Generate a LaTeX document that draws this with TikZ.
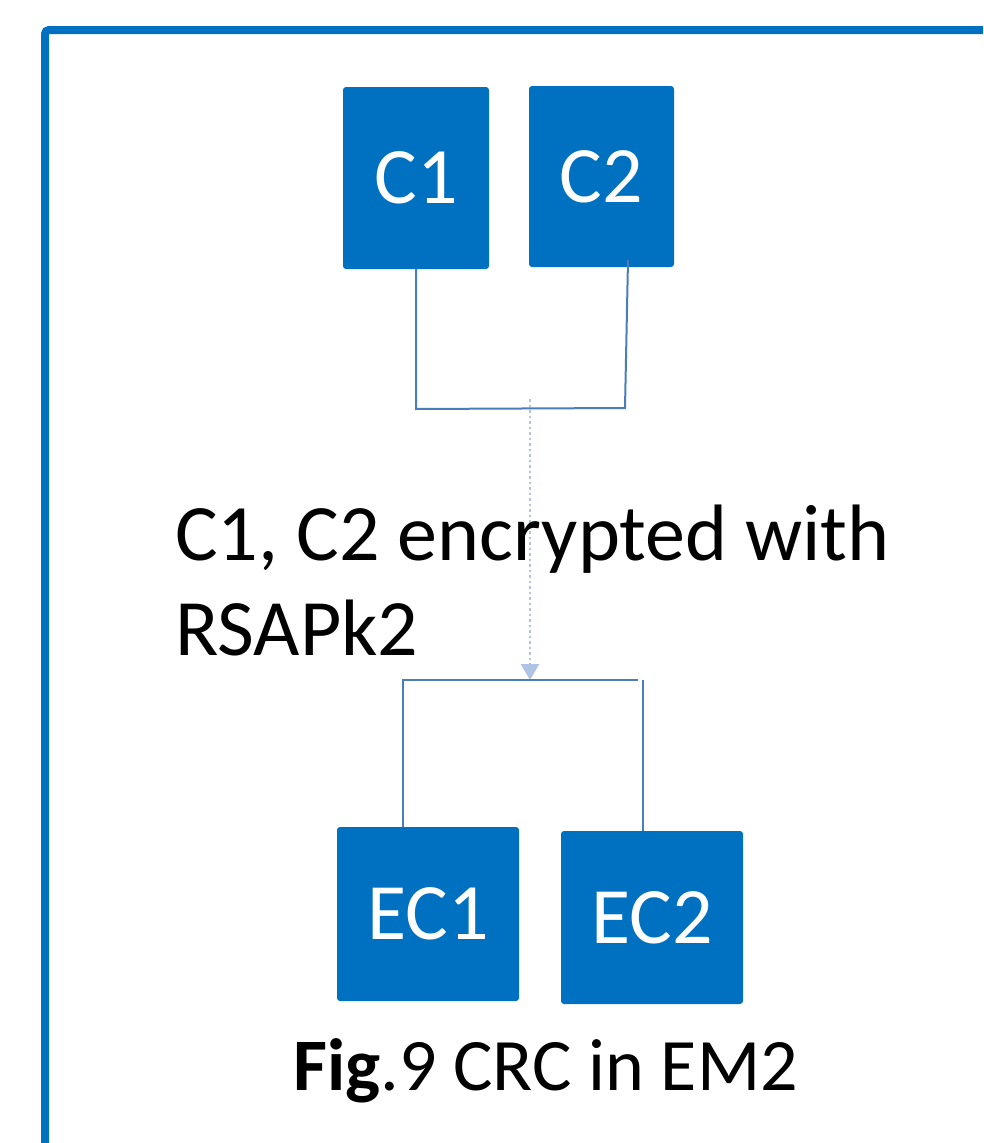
\documentclass[tikz,border=0pt]{standalone}
\usepackage{fontspec}
\setmainfont{Carlito}
\usetikzlibrary{arrows.meta}
\definecolor{boxblue}{HTML}{0070C0}
\definecolor{linkblue}{HTML}{4A7EBB}
\definecolor{dotblue}{HTML}{AFC4E5}
\tikzset{
  blk/.style={fill=boxblue, draw=none, rounded corners=3pt, text=white, inner sep=0pt,
    font=\fontsize{80}{80}\selectfont},
  conn/.style={draw=linkblue, line width=2pt},
  dotarrow/.style={draw=dotblue, line width=2.5pt, dash pattern=on 2.5pt off 3pt,
    -{Triangle[width=18pt,length=16pt,fill=dotblue]}},
}
\begin{document}
\begin{tikzpicture}[x=1pt,y=-1pt]
\useasboundingbox (0,0) rectangle (983,1143);
\clip (0,0) rectangle (983,1143);
\fill[white] (0,0) rectangle (983,1143);
% frame
\draw[boxblue, line width=8pt, rounded corners=4pt] (45,1200) -- (45,30) -- (1050,30);
% boxes
\node[blk, minimum width=146pt, minimum height=182pt] (C1) at (416,178) {C1};
\node[blk, minimum width=145pt, minimum height=181pt] (C2) at (601.5,176.5) {C2};
\node[blk, minimum width=182pt, minimum height=174pt] (EC1) at (428,914) {EC1};
\node[blk, minimum width=182pt, minimum height=173pt] (EC2) at (652,917.5) {EC2};
% top bracket
\coordinate (t1) at (416,409);
\coordinate (t2) at (625,408);
\coordinate (c2in) at (628,260);
\draw[conn] (C1.south) -- (t1) -- (t2) -- (c2in);
% dotted arrow
\coordinate (ds) at (530,399);
\coordinate (de) at (530,680);
\draw[dotarrow] (ds) -- (de);
% bottom bracket
\coordinate (b1) at (403,827);
\coordinate (b2) at (403,680);
\coordinate (b3) at (638,680);
\coordinate (b4) at (643,680);
\coordinate (b5) at (643,831);
\draw[conn] (b1) -- (b2) -- (b3);
\draw[conn] (b4) -- (b5);
% label
\node[anchor=base west, align=left, inner sep=0pt, font=\fontsize{80}{95}\selectfont] (lbl) at (175,655)
  {C1, C2 encrypted with\\RSAPk2};
% caption
\node[anchor=base west, inner sep=0pt, font=\fontsize{74}{74}\selectfont] (cap) at (293,1090)
  {\textbf{Fig}.9 CRC in EM2};
\end{tikzpicture}
\end{document}
